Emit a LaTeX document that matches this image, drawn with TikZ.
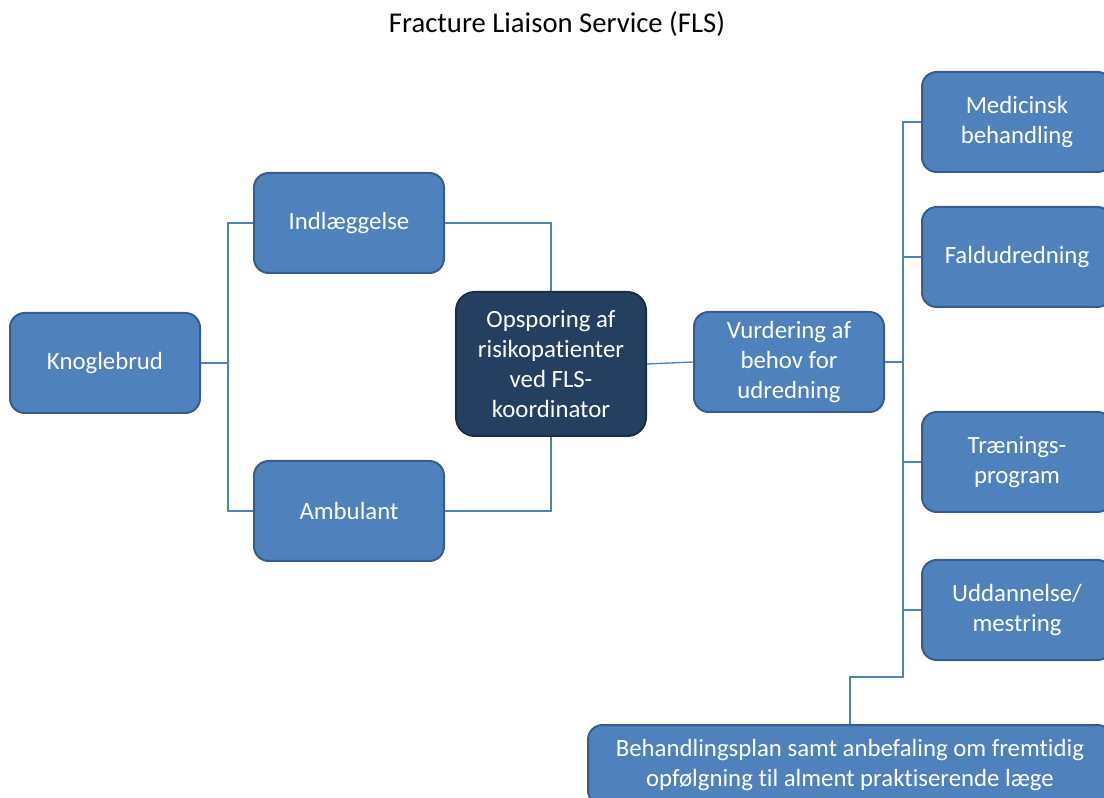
\documentclass[tikz,border=0pt]{standalone}
\usepackage{fontspec}
\setmainfont{Carlito}[Ligatures={NoCommon}]
\definecolor{boxfill}{HTML}{4F81BD}
\definecolor{boxline}{HTML}{385D8A}
\definecolor{darkfill}{HTML}{243F60}
\definecolor{darkline}{HTML}{1A2E47}
\definecolor{conn}{HTML}{4F81BD}
\begin{document}
\begin{tikzpicture}[x=0.75pt,y=-0.75pt,
  box/.style={draw=boxline, line width=1.5pt, fill=boxfill, rounded corners=11pt,
    minimum width=142.5pt, minimum height=75pt, align=center, text=white,
    font=\fontsize{18.6}{22.5}\selectfont, inner sep=2pt},
  dbox/.style={box, draw=darkline, fill=darkfill, minimum height=108pt, rounded corners=14pt},
  link/.style={draw=conn, line width=1pt}]
\useasboundingbox (0,0) rectangle (1104,798);
\clip (0,0) rectangle (1104,798);
\node[font=\fontsize{21.5}{26}\selectfont] (title) at (557,24) {Fracture Liaison Service (FLS)};
\node[box] (kno) at (105,363) {Knoglebrud};
\node[box] (ind) at (349,223) {Indlæggelse};
\node[box] (amb) at (349,511) {Ambulant};
\node[dbox] (ops) at (551,364) {Opsporing af\\risikopatienter\\ved FLS-\\koordinator};
\node[box] (vur) at (789,362) {Vurdering af\\behov for\\udredning};
\node[box] (med) at (1017,122) {Medicinsk\\behandling};
\node[box] (fal) at (1017,257) {Faldudredning};
\node[box] (tra) at (1017,462) {Trænings-\\program};
\node[box] (udd) at (1017,610) {Uddannelse/\\mestring};
\node[box, minimum width=393pt, minimum height=60pt] (beh) at (850,765) {Behandlingsplan samt anbefaling om fremtidig\\opfølgning til alment praktiserende læge};
\coordinate (jl) at (228,363);
\coordinate (jr) at (903,362);
\coordinate (jb) at (903,677);
\draw[link] (kno.east) -- (jl) |- (ind.west);
\draw[link] (jl) |- (amb.west);
\draw[link] (ind.east) -| (ops.north);
\draw[link] (amb.east) -| (ops.south);
\draw[link] (ops.east) -- (vur.west);
\draw[link] (vur.east) -- (jr);
\draw[link] (jr) |- (med.west);
\draw[link] (jr) |- (fal.west);
\draw[link] (jr) |- (tra.west);
\draw[link] (jr) |- (udd.west);
\draw[link] (udd.west -| jr) -- (jb) -| (beh.north);
\end{tikzpicture}
\end{document}
